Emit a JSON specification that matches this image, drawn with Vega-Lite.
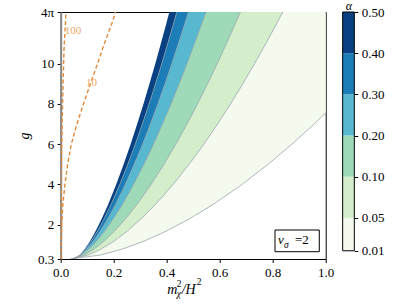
{
  "$schema": "https://vega.github.io/schema/vega-lite/v6.json",
  "autosize": {"type": "none"},
  "padding": {"left": 60.7, "top": 12, "right": 81.3, "bottom": 46},
  "width": 265,
  "height": 247,
  "config": {
    "view": {"stroke": "black", "strokeWidth": 1},
    "font": "Liberation Serif",
    "axis": {"labelFont": "Liberation Serif", "labelFontSize": 13, "labelColor": "black", "tickColor": "black", "domainColor": "black", "tickSize": 3.5, "labelPadding": 3.5, "grid": false, "labelFlush": false, "titleFont": "Liberation Serif", "titleFontWeight": "normal", "titleFontStyle": "italic", "titleFontSize": 14, "titleColor": "black"}
  },
  "datasets": {
    "contours": [
      {"g": 0.3, "c50": 0.050, "c40": 0.048, "c30": 0.046, "c20": 0.044, "c10": 0.042, "c05": 0.040, "c01": 0.035},
      {"g": 0.5, "c50": 0.072, "c40": 0.0727, "c30": 0.0748, "c20": 0.0787, "c10": 0.0896, "c05": 0.1048, "c01": 0.151},
      {"g": 0.8, "c50": 0.0909, "c40": 0.0937, "c30": 0.0988, "c20": 0.107, "c10": 0.1267, "c05": 0.1533, "c01": 0.2342},
      {"g": 1.2, "c50": 0.111, "c40": 0.1158, "c30": 0.1238, "c20": 0.1363, "c10": 0.1647, "c05": 0.2022, "c01": 0.3169},
      {"g": 1.7, "c50": 0.1323, "c40": 0.1391, "c30": 0.1501, "c20": 0.167, "c10": 0.2041, "c05": 0.2524, "c01": 0.4007},
      {"g": 2.3, "c50": 0.1549, "c40": 0.1637, "c30": 0.1777, "c20": 0.199, "c10": 0.2448, "c05": 0.3039, "c01": 0.4863},
      {"g": 3, "c50": 0.1787, "c40": 0.1895, "c30": 0.2066, "c20": 0.2325, "c10": 0.2872, "c05": 0.3571, "c01": 0.574},
      {"g": 4, "c50": 0.2093, "c40": 0.2227, "c30": 0.2437, "c20": 0.2753, "c10": 0.3409, "c05": 0.4242, "c01": 0.684},
      {"g": 5, "c50": 0.2375, "c40": 0.2531, "c30": 0.2775, "c20": 0.3142, "c10": 0.3895, "c05": 0.4845, "c01": 0.7823},
      {"g": 6, "c50": 0.2638, "c40": 0.2814, "c30": 0.309, "c20": 0.3502, "c10": 0.4344, "c05": 0.54, "c01": 0.8722},
      {"g": 7, "c50": 0.2886, "c40": 0.308, "c30": 0.3385, "c20": 0.3842, "c10": 0.4765, "c05": 0.5918, "c01": 0.956},
      {"g": 8, "c50": 0.3123, "c40": 0.3335, "c30": 0.3667, "c20": 0.4164, "c10": 0.5163, "c05": 0.6407, "c01": 1.035},
      {"g": 9, "c50": 0.335, "c40": 0.3578, "c30": 0.3936, "c20": 0.4472, "c10": 0.5542, "c05": 0.6872, "c01": 1.1095},
      {"g": 10, "c50": 0.3569, "c40": 0.3813, "c30": 0.4194, "c20": 0.4767, "c10": 0.5906, "c05": 0.7315, "c01": 1.1808},
      {"g": 11, "c50": 0.378, "c40": 0.4039, "c30": 0.4444, "c20": 0.5052, "c10": 0.6255, "c05": 0.7742, "c01": 1.2492},
      {"g": 12, "c50": 0.3986, "c40": 0.4258, "c30": 0.4686, "c20": 0.5328, "c10": 0.6593, "c05": 0.8153, "c01": 1.3148},
      {"g": 12.566, "c50": 0.41, "c40": 0.438, "c30": 0.482, "c20": 0.548, "c10": 0.678, "c05": 0.838, "c01": 1.351}
    ],
    "dashed": [
      {"curve": "100", "g": 0.3, "x": 0.0005},
      {"curve": "100", "g": 2, "x": 0.0015},
      {"curve": "100", "g": 4, "x": 0.0025},
      {"curve": "100", "g": 6.1, "x": 0.004},
      {"curve": "100", "g": 8.3, "x": 0.0075},
      {"curve": "100", "g": 10.7, "x": 0.0125},
      {"curve": "100", "g": 12.566, "x": 0.02},
      {"curve": "10", "g": 0.3, "x": 0.0015},
      {"curve": "10", "g": 1, "x": 0.002},
      {"curve": "10", "g": 2, "x": 0.004},
      {"curve": "10", "g": 3, "x": 0.008},
      {"curve": "10", "g": 4, "x": 0.016},
      {"curve": "10", "g": 5, "x": 0.026},
      {"curve": "10", "g": 6, "x": 0.040},
      {"curve": "10", "g": 7, "x": 0.061},
      {"curve": "10", "g": 8, "x": 0.086},
      {"curve": "10", "g": 9, "x": 0.112},
      {"curve": "10", "g": 10, "x": 0.139},
      {"curve": "10", "g": 11, "x": 0.165},
      {"curve": "10", "g": 12, "x": 0.193},
      {"curve": "10", "g": 12.566, "x": 0.207}
    ],
    "labels": [
      {"label": "100", "x": 0.0464, "g": 11.6},
      {"label": "10", "x": 0.116, "g": 9.06}
    ],
    "bands": [
      {"band": "0.01-0.05", "lo": 0.01, "hi": 0.05},
      {"band": "0.05-0.10", "lo": 0.05, "hi": 0.1},
      {"band": "0.10-0.20", "lo": 0.1, "hi": 0.2},
      {"band": "0.20-0.30", "lo": 0.2, "hi": 0.3},
      {"band": "0.30-0.40", "lo": 0.3, "hi": 0.4},
      {"band": "0.40-0.50", "lo": 0.4, "hi": 0.5}
    ]
  },
  "layer": [
    {
      "data": {"name": "contours"},
      "layer": [
        {
          "mark": {"type": "area", "orient": "horizontal", "clip": true, "color": "#084081"},
          "encoding": {
            "y": {"field": "g", "type": "quantitative", "scale": {"domain": [0.3, 12.566], "nice": false, "zero": false},
              "axis": {"title": "g", "values": [0.3, 2, 4, 6, 8, 10, 12.566], "labelExpr": "datum.value < 1 ? '0.3' : (datum.value > 12 ? '4π' : format(datum.value, 'd'))", "domainColor": "#8a8a8a", "domainWidth": 2, "titlePadding": 6}},
            "x": {"field": "c50", "type": "quantitative", "scale": {"domain": [0, 1], "nice": false, "zero": false},
              "axis": {"title": null, "values": [0, 0.2, 0.4, 0.6, 0.8, 1.0], "format": ".1f"}},
            "x2": {"field": "c40"}
          }
        },
        {"mark": {"type": "area", "orient": "horizontal", "clip": true, "color": "#1d7db7"},
          "encoding": {"y": {"field": "g", "type": "quantitative"}, "x": {"field": "c40", "type": "quantitative"}, "x2": {"field": "c30"}}},
        {"mark": {"type": "area", "orient": "horizontal", "clip": true, "color": "#57b8d0"},
          "encoding": {"y": {"field": "g", "type": "quantitative"}, "x": {"field": "c30", "type": "quantitative"}, "x2": {"field": "c20"}}},
        {"mark": {"type": "area", "orient": "horizontal", "clip": true, "color": "#9fdab8"},
          "encoding": {"y": {"field": "g", "type": "quantitative"}, "x": {"field": "c20", "type": "quantitative"}, "x2": {"field": "c10"}}},
        {"mark": {"type": "area", "orient": "horizontal", "clip": true, "color": "#d4eecb"},
          "encoding": {"y": {"field": "g", "type": "quantitative"}, "x": {"field": "c10", "type": "quantitative"}, "x2": {"field": "c05"}}},
        {"mark": {"type": "area", "orient": "horizontal", "clip": true, "color": "#f4fbee"},
          "encoding": {"y": {"field": "g", "type": "quantitative"}, "x": {"field": "c05", "type": "quantitative"}, "x2": {"field": "c01"}}},
        {
          "transform": [{"fold": ["c40", "c30", "c20", "c10", "c05", "c01"], "as": ["level", "xv"]}],
          "mark": {"type": "line", "clip": true, "stroke": "#8d9aa6", "strokeWidth": 0.7},
          "encoding": {
            "x": {"field": "xv", "type": "quantitative"},
            "y": {"field": "g", "type": "quantitative"},
            "detail": {"field": "level", "type": "nominal"},
            "order": {"field": "g", "type": "quantitative"}
          }
        },
        {
          "data": {"name": "dashed"},
          "mark": {"type": "line", "clip": true, "stroke": "#e08a3a", "strokeWidth": 1.4, "strokeDash": [4, 2.5]},
          "encoding": {
            "x": {"field": "x", "type": "quantitative"},
            "y": {"field": "g", "type": "quantitative"},
            "detail": {"field": "curve", "type": "nominal"},
            "order": {"field": "g", "type": "quantitative"}
          }
        },
        {
          "data": {"name": "labels"},
          "mark": {"type": "text", "font": "Liberation Serif", "fontSize": 11, "color": "#eda764", "align": "center", "baseline": "middle"},
          "encoding": {
            "x": {"field": "x", "type": "quantitative"},
            "y": {"field": "g", "type": "quantitative"},
            "text": {"field": "label"}
          }
        },
        {
          "data": {"values": [{}]},
          "mark": {"type": "rect", "fill": "white", "stroke": "black", "strokeWidth": 1},
          "encoding": {"x": {"datum": 0.8087}, "x2": {"datum": 0.9758}, "y": {"datum": 0.662}, "y2": {"datum": 1.74}}
        },
        {
          "data": {"values": [{}]},
          "mark": {"type": "text", "text": "ν", "font": "Liberation Serif", "fontStyle": "italic", "fontSize": 13, "align": "left", "baseline": "alphabetic", "color": "black"},
          "encoding": {"x": {"datum": 0.82}, "y": {"datum": 1.03}}
        },
        {
          "data": {"values": [{}]},
          "mark": {"type": "text", "text": "σ", "font": "Liberation Serif", "fontStyle": "italic", "fontSize": 9.5, "align": "left", "baseline": "alphabetic", "color": "black"},
          "encoding": {"x": {"datum": 0.8426}, "y": {"datum": 0.87}}
        },
        {
          "data": {"values": [{}]},
          "mark": {"type": "text", "text": "=2", "font": "Liberation Serif", "fontSize": 13, "align": "left", "baseline": "alphabetic", "color": "black"},
          "encoding": {"x": {"datum": 0.884}, "y": {"datum": 1.03}}
        },
        {
          "data": {"values": [{}]},
          "mark": {"type": "text", "text": "m", "font": "Liberation Serif", "fontStyle": "italic", "fontSize": 14, "align": "left", "baseline": "alphabetic", "color": "black"},
          "encoding": {"x": {"datum": 0.4023}, "y": {"datum": -1.438}}
        },
        {
          "data": {"values": [{}]},
          "mark": {"type": "text", "text": "2", "font": "Liberation Serif", "fontSize": 9.5, "align": "left", "baseline": "alphabetic", "color": "black"},
          "encoding": {"x": {"datum": 0.4377}, "y": {"datum": -1.075}}
        },
        {
          "data": {"values": [{}]},
          "mark": {"type": "text", "text": "χ", "font": "Liberation Serif", "fontStyle": "italic", "fontSize": 9.5, "align": "left", "baseline": "alphabetic", "color": "black"},
          "encoding": {"x": {"datum": 0.4377}, "y": {"datum": -1.6}}
        },
        {
          "data": {"values": [{}]},
          "mark": {"type": "text", "text": "/H", "font": "Liberation Serif", "fontStyle": "italic", "fontSize": 14, "align": "left", "baseline": "alphabetic", "color": "black"},
          "encoding": {"x": {"datum": 0.4566}, "y": {"datum": -1.438}}
        },
        {
          "data": {"values": [{}]},
          "mark": {"type": "text", "text": "2", "font": "Liberation Serif", "fontSize": 9.5, "align": "left", "baseline": "alphabetic", "color": "black"},
          "encoding": {"x": {"datum": 0.5132}, "y": {"datum": -0.99}}
        }
      ]
    },
    {
      "data": {"name": "bands"},
      "layer": [
        {
          "mark": {"type": "rect"},
          "encoding": {
            "x": {"datum": 1.064, "type": "quantitative"},
            "x2": {"datum": 1.108},
            "y": {"field": "lo", "type": "quantitative",
              "scale": {"domain": [0.01, 0.05, 0.1, 0.2, 0.3, 0.4, 0.5], "range": [247, 205.83, 164.67, 123.5, 82.33, 41.17, 0]},
              "axis": {"orient": "right", "offset": 28.6, "values": [0.01, 0.05, 0.1, 0.2, 0.3, 0.4, 0.5], "format": ".2f", "domain": false,
                "title": "α", "titleAngle": 0, "titleX": -5.8, "titleY": -3, "titleAlign": "center", "titleBaseline": "alphabetic", "titleFontSize": 12, "titleFontStyle": "italic"}},
            "y2": {"field": "hi"},
            "color": {"field": "band", "type": "nominal",
              "scale": {"domain": ["0.01-0.05", "0.05-0.10", "0.10-0.20", "0.20-0.30", "0.30-0.40", "0.40-0.50"], "range": ["#f4fbee", "#d4eecb", "#9fdab8", "#57b8d0", "#1d7db7", "#084081"]},
              "legend": null}
          }
        },
        {
          "data": {"values": [{}]},
          "mark": {"type": "rect", "fill": null, "fillOpacity": 0, "stroke": "black", "strokeWidth": 1},
          "encoding": {"x": {"datum": 1.064}, "x2": {"datum": 1.108}, "y": {"datum": 0.01}, "y2": {"datum": 0.5}}
        }
      ]
    }
  ],
  "resolve": {"scale": {"y": "independent"}, "axis": {"y": "independent"}}
}
